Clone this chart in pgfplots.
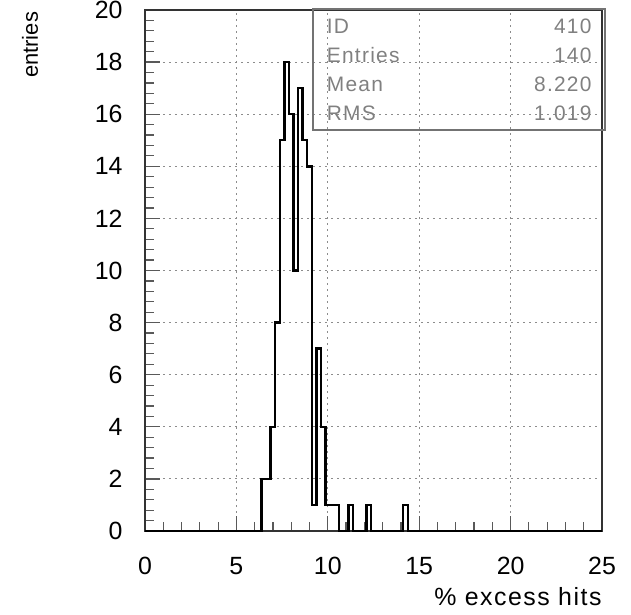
\documentclass[border=0pt]{standalone}
\usepackage{fontspec}
\setmainfont{Liberation Sans}
\newfontfamily\widefont{Liberation Sans}[LetterSpace=6]
\usepackage{pgfplots}
\pgfplotsset{compat=1.18}
\begin{document}
\begin{tikzpicture}
\begin{axis}[
  name=ax, at={(0,0)}, anchor=south west,
  scale only axis, width=457bp, height=521bp,
  xmin=0, xmax=25, ymin=0, ymax=20,
  xtick={0,5,...,25}, ytick={0,2,...,20},
  minor x tick num=4, minor y tick num=4,
  tick pos=left, tick align=inside,
  major tick length=15bp, minor tick length=9bp,
  every tick/.style={black!65, line width=1.2bp},
  grid=major,
  major grid style={black!45, dash pattern=on 2bp off 4bp, line width=1bp},
  axis line style={black!80, line width=1.8bp},
  /pgf/number format/assume math mode=true,
  ticklabel style={font=\fontsize{25}{29}\selectfont},
  xticklabel style={yshift=-23bp},
  yticklabel style={xshift=-19bp},
  xlabel={\% excess hits},
  xlabel style={at={(axis description cs:1.0066,-0.1267)}, anchor=east, font=\widefont\fontsize{25}{29}\selectfont},
  ylabel={entries},
  ylabel style={at={(axis description cs:-0.2516,0.933)}, anchor=center, font=\fontsize{22}{26}\selectfont},
  clip=false,
]
\addplot[const plot, black, line width=2.5bp, line join=miter] coordinates {
(0,0) (6.375,2) (6.875,4) (7.125,8) (7.375,15) (7.625,18) (7.875,16) (8.125,10)
(8.375,17) (8.625,15) (8.875,14) (9.125,1) (9.375,7) (9.625,4) (9.875,1) (10.625,0)
(11.125,1) (11.375,0) (12.125,1) (12.375,0) (14.125,1) (14.375,0) (25,0)
};
\draw[black!55, line width=1.6bp] (rel axis cs:0.367,0.7697) rectangle (rel axis cs:1.0066,1.0019);
\begin{scope}[every node/.style={font=\widefont\fontsize{21}{25}\selectfont, text=black!50, inner sep=0pt}]
\node[anchor=base west] at (rel axis cs:0.3976,0.9553) {ID};
\node[anchor=base west] at (rel axis cs:0.3976,0.8992) {Entries};
\node[anchor=base west] at (rel axis cs:0.3976,0.8436) {Mean};
\node[anchor=base west] at (rel axis cs:0.3976,0.7879) {RMS};
\node[anchor=base east] at (rel axis cs:0.9775,0.9553) {410};
\node[anchor=base east] at (rel axis cs:0.9775,0.8992) {140};
\node[anchor=base east] at (rel axis cs:0.9775,0.8436) {8.220};
\node[anchor=base east] at (rel axis cs:0.9775,0.7879) {1.019};
\end{scope}
\end{axis}
\pgfresetboundingbox
\path[use as bounding box] (-145bp,-84bp) rectangle (486bp,531bp);
\end{tikzpicture}
\end{document}
